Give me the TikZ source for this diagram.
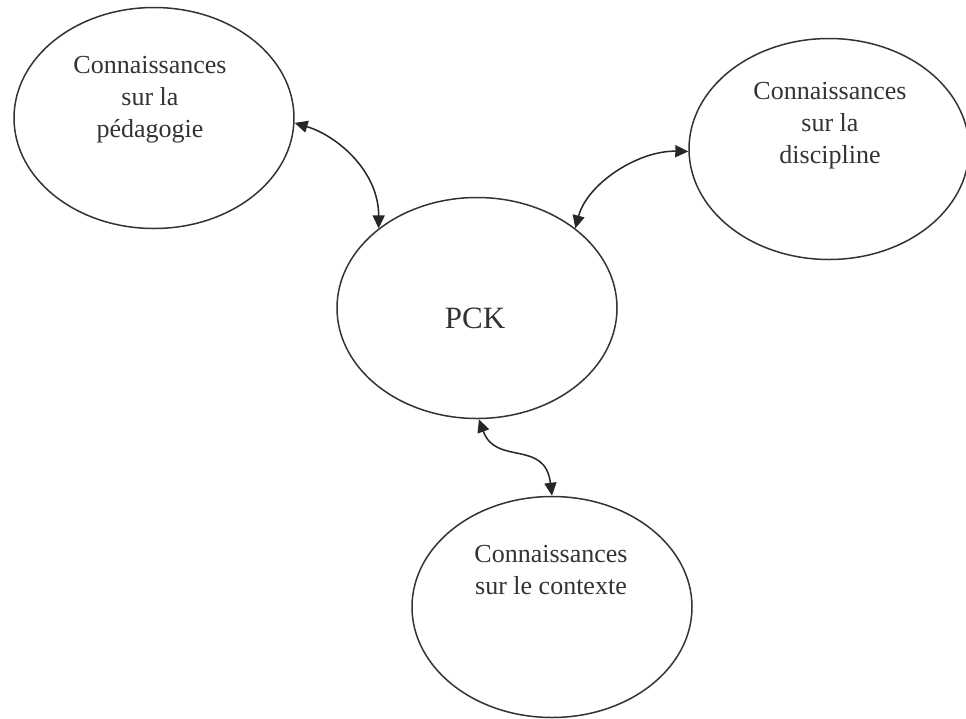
\documentclass[tikz,border=0pt]{standalone}
\usepackage{fontspec}
\setmainfont{Liberation Serif}
\usetikzlibrary{shapes.geometric,arrows.meta}
\definecolor{inkgray}{HTML}{333333}
\tikzset{
  bubble/.style={ellipse, draw=inkgray, line width=1.5pt, inner sep=0pt,
    minimum width=280pt, minimum height=221pt},
  bubbletext/.style={align=center, text=inkgray, inner sep=0pt,
    font=\fontsize{26}{32}\selectfont},
  pcktext/.style={text=inkgray, inner sep=0pt, font=\fontsize{31}{36}\selectfont},
  link/.style={line width=1.5pt, draw=black!85,
    {Triangle[length=13pt,width=12pt]}-{Triangle[length=13pt,width=12pt]}}
}
\begin{document}
\begin{tikzpicture}[x=1pt,y=-1pt]
\fill[white] (0,0) rectangle (966,718);
\useasboundingbox (0,0) rectangle (966,718);

\node[bubble] (tl) at (154,118) {};
\node[bubble] (tr) at (829,149) {};
\node[bubble] (pck) at (477,308) {};
\node[bubble] (bt) at (552,607) {};

\node[bubbletext] (tltext) at (150,100) {Connaissances\\sur la\\pédagogie};
\node[bubbletext] (trtext) at (830,126) {Connaissances\\sur la\\discipline};
\node[bubbletext] (bttext) at (551,570) {Connaissances\\sur le contexte};
\node[pcktext] (pcklabel) at (475,318) {PCK};

\draw[link] (tl.-2) .. controls +(43,13) and +(0,-57) .. (pck.141);
\draw[link] (pck.39) .. controls +(12,-45) and +(-50,-1) .. (tr.181);
\draw[link] (pck.-89) .. controls +(17,47) and +(-7,-57) .. (bt.north);
\end{tikzpicture}
\end{document}
